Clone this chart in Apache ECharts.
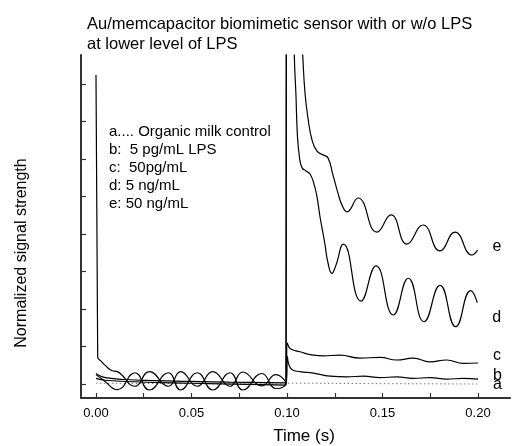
<!DOCTYPE html>
<html>
<head>
<meta charset="utf-8">
<script src="https://cdn.jsdelivr.net/npm/echarts@6/dist/echarts.min.js"></script>
<style>
html,body{margin:0;padding:0;background:#fff;}
#chart{width:513px;height:446px;}
</style>
</head>
<body>
<div id="chart"></div>
<script>
// ---- data (time in s, normalized signal) ----
const titleText = "Au/memcapacitor biomimetic sensor with or w/o LPS\nat lower level of LPS";
const xAxisName = "Time (s)";
const yAxisName = "Normalized signal strength";
const legendLines = [
  "a.... Organic milk control",
  "b:  5 pg/mL LPS",
  "c:  50pg/mL",
  "d: 5 ng/mL",
  "e: 50 ng/mL"
];
const seriesNames = ["a", "b", "c", "d", "e"];
const xTickValues = [0, 0.025, 0.05, 0.075, 0.1, 0.125, 0.15, 0.175, 0.2];
const xLabelValues = [0, 0.05, 0.1, 0.15, 0.2];
const yTickValues = [0, 1, 2, 3, 4, 5, 6, 7, 8];

const seriesA = [[0,0.02],[0.05,0.01],[0.0995,0.0],[0.1002,0.02],[0.15,0.01],[0.2,0.0]];

const seriesB = [[0,0.15],[0.005,0.1],[0.02,0.06],[0.05,0.02],[0.08,-0.01],[0.0995,-0.03],
  [0.1002,0.73],[0.1008,0.55],[0.1025,0.39],[0.1068,0.33],[0.1138,0.29],[0.1225,0.21],
  [0.1313,0.19],[0.14,0.21],[0.1487,0.17],[0.1574,0.19],[0.1661,0.15],[0.1749,0.17],
  [0.1836,0.13],[0.1923,0.15],[0.2,0.13]];

const seriesC = [[0,0.28],[0.002,0.22],[0.005,0.17],[0.015,0.12],[0.03,0.09],[0.05,0.07],
  [0.07,0.05],[0.0995,0.03],[0.1002,1.09],[0.1016,0.95],[0.1068,0.86],[0.1138,0.77],
  [0.119,0.75],[0.1277,0.77],[0.1382,0.69],[0.1487,0.71],[0.1574,0.64],[0.1661,0.69],
  [0.1749,0.59],[0.1836,0.64],[0.1923,0.55],[0.2,0.56]];

const seriesD = [[0,0.25],[0.004,0.1],[0.0112,-0.15],[0.0204,0.3],[0.0279,-0.16],[0.0379,0.3],
  [0.0443,-0.16],[0.053,0.3],[0.0611,-0.16],[0.0702,0.3],[0.0768,-0.16],[0.0868,0.28],
  [0.0942,-0.12],[0.0995,0.05],
  [0.1001,40],[0.1025,14],[0.1034,10.5],[0.10382,8.77],[0.10471,7.68],[0.10539,6.69],
  [0.10654,6.04],[0.10785,5.77],[0.10995,5.68],[0.11204,5.6],[0.11414,5.33],[0.11571,4.99],
  [0.11728,4.46],[0.1197,3.78],[0.1215,3.22],[0.1235,2.95],[0.1255,3.15],[0.12948,3.73],
  [0.13874,2.21],[0.1466,3.15],
  [0.15565,1.84],[0.16351,2.82],[0.17173,1.66],[0.1801,2.63],[0.18832,1.53],[0.19618,2.49],
  [0.19963,2.17]];

const seriesE = [[0,8.24],[0.0009,0.73],[0.003,0.59],[0.0056,0.46],[0.0082,0.36],[0.0112,0.33],
  [0.0204,-0.06],[0.0279,0.33],[0.0379,-0.06],[0.0443,0.33],[0.053,-0.06],[0.0611,0.33],
  [0.0702,-0.06],[0.0768,0.32],[0.0868,-0.05],[0.0942,0.25],[0.0995,0.05],
  [0.1001,40],[0.104,14],[0.1065,10.3],[0.10822,8.77],[0.10942,7.76],[0.11099,7.09],
  [0.11309,6.51],[0.11571,6.21],[0.11885,6.11],[0.12147,6.03],[0.12408,5.57],[0.1267,5.09],
  [0.1288,4.77],[0.13141,4.59],[0.13717,4.96],[0.14712,4.05],[0.15445,4.51],[0.16283,3.73],
  [0.1712,4.24],[0.1801,3.55],[0.18796,4.05],[0.19686,3.44],[0.19974,3.57]];

const allData = [seriesA, seriesB, seriesC, seriesD, seriesE];
const labelOffsets = [[0,1],[0,-4],[0,-7],[0,15],[0,-4]];

const FONT = "'Liberation Sans', Arial, sans-serif";
const chart = echarts.init(document.getElementById('chart'), null, {renderer: 'canvas'});

const series = allData.map((d, i) => ({
  name: seriesNames[i],
  type: 'line',
  data: d,
  smooth: 0.5,
  showSymbol: false,
  symbol: 'none',
  clip: true,
  z: i === 0 ? 1 : 2,
  lineStyle: i === 0
    ? {color: '#777', width: 1, type: [1.5, 2.5]}
    : {color: '#000', width: 1.2},
  endLabel: {
    show: true,
    formatter: seriesNames[i],
    color: '#000',
    fontFamily: FONT,
    fontSize: 16,
    distance: 15,
    offset: labelOffsets[i]
  },
  emphasis: {disabled: true}
}));

chart.setOption({
  animation: false,
  backgroundColor: '#fff',
  title: {
    text: titleText,
    left: 82,
    top: 9,
    textStyle: {fontFamily: FONT, fontSize: 16.5, fontWeight: 'normal', color: '#000', lineHeight: 20}
  },
  grid: {left: 81, right: 3, top: 55, bottom: 48, containLabel: false},
  xAxis: {
    type: 'value',
    min: -0.00785,
    max: 0.21675,
    axisLine: {show: true, onZero: false, lineStyle: {color: '#333', width: 2}},
    axisTick: {show: true, inside: true, length: 5, customValues: xTickValues, lineStyle: {color: '#333', width: 1.2}},
    axisLabel: {show: true, customValues: xLabelValues, margin: 9, color: '#000', fontFamily: FONT, fontSize: 13,
      formatter: v => v.toFixed(2)},
    splitLine: {show: false}
  },
  yAxis: {
    type: 'value',
    min: -0.373,
    max: 8.773,
    axisLine: {show: true, onZero: false, lineStyle: {color: '#333', width: 2}},
    axisTick: {show: true, inside: true, length: 5, customValues: yTickValues, lineStyle: {color: '#333', width: 1.2}},
    axisLabel: {show: false},
    splitLine: {show: false}
  },
  graphic: [
    {type: 'text', left: 109, top: 123, silent: true,
      style: {text: legendLines.join('\n'), font: '15px ' + FONT, lineHeight: 18, fill: '#000'}},
    {type: 'text', x: 22, y: 253, rotation: Math.PI / 2, silent: true,
      style: {text: yAxisName, font: '16px ' + FONT, fill: '#000', align: 'center', verticalAlign: 'middle'}},
    {type: 'text', x: 304, y: 436, silent: true,
      style: {text: xAxisName, font: '17px ' + FONT, fill: '#000', align: 'center', verticalAlign: 'middle'}}
  ],
  series: series
});
</script>
</body>
</html>
